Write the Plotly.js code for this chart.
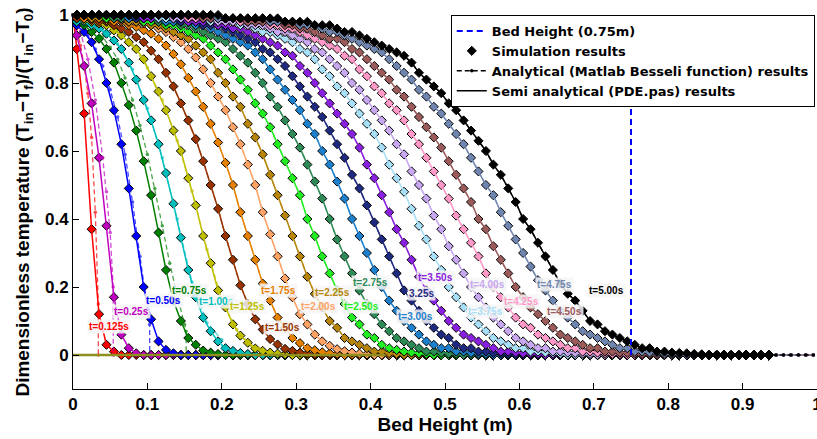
<!DOCTYPE html>
<html><head><meta charset="utf-8">
<script src="https://cdn.plot.ly/plotly-3.0.1.min.js"></script>
<style>html,body{margin:0;padding:0;background:#fff}#chart{width:817px;height:439px}</style>
</head><body><div id="chart"></div>
<script>
// ---------------- data ----------------
const times = [0.125,0.25,0.5,0.75,1.0,1.25,1.5,1.75,2.0,2.25,2.5,2.75,3.0,3.25,3.5,3.75,4.0,4.25,4.5,4.75,5.0];
const labels = ['t=0.125s','t=0.25s','t=0.50s','t=0.75s','t=1.00s','t=1.25s','t=1.50s','t=1.75s','t=2.00s','t=2.25s','t=2.50s','t=2.75s','t=3.00s','3.25s','t=3.50s','t=3.75s','t=4.00s','t=4.25s','t=4.50s','t=4.75s','t=5.00s'];
const labelX = [0.049,0.078,0.121,0.156,0.193,0.235,0.281,0.276,0.330,0.349,0.388,0.400,0.461,0.469,0.487,0.554,0.557,0.603,0.661,0.647,0.717];
const labelY = [0.083,0.127,0.159,0.191,0.157,0.142,0.081,0.191,0.142,0.183,0.142,0.213,0.113,0.181,0.227,0.127,0.206,0.157,0.127,0.206,0.189];
const colors = ['#ff0000','#c000c0','#0000ff','#008000','#00bfbf','#bfbf00','#993300','#e68000','#ffa366','#b8860b','#22ee22','#2e8b57','#1e80cc','#1f2a80','#8a20e0','#a8e0f8','#c8a8f0','#ff99c8','#9c5b5b','#6f86b0','#000000'];

// simulation grid (x = 0.005 + 0.01 k)
const simX0 = 0.005, simStep = 0.01, simCount = 94, anaCount = 100;
const inletValue = 1;

// simulation results (values until the curve reaches ~0; zeros after)
const sim_t0125 = [0.90,0.71,0.37,0.12,0.03,0.01];
const sim_t025  = [0.94,0.85,0.74,0.58,0.38,0.17,0.06,0.02,0.005];
const sim_t050  = [0.97,0.95,0.92,0.87,0.80,0.72,0.62,0.49,0.35,0.20,0.105,0.04,0.015,0.005];
const sim_t075  = [0.98,0.97,0.95,0.93,0.90,0.86,0.80,0.735,0.66,0.57,0.47,0.36,0.25,0.16,0.10,0.05,0.03,0.013,0.007,0.003];
const sim_t100  = [0.98,0.98,0.97,0.96,0.945,0.925,0.90,0.86,0.81,0.75,0.69,0.62,0.535,0.445,0.345,0.25,0.17,0.11,0.07,0.04,0.02,0.012,0.006,0.003];
const sim_t125  = [0.99,0.985,0.98,0.975,0.97,0.955,0.94,0.92,0.90,0.87,0.82,0.775,0.72,0.66,0.60,0.52,0.44,0.35,0.27,0.19,0.14,0.09,0.057,0.036,0.019,0.012,0.007,0.004,0.002];
const sim_t150  = [0.99,0.99,0.985,0.98,0.98,0.97,0.96,0.95,0.935,0.92,0.895,0.87,0.83,0.79,0.74,0.69,0.635,0.57,0.50,0.43,0.35,0.28,0.205,0.15,0.105,0.075,0.047,0.031,0.018,0.012,0.007,0.004,0.002];
const sim_t175  = [1,0.99,0.99,0.99,0.985,0.98,0.98,0.97,0.965,0.955,0.945,0.93,0.91,0.885,0.855,0.815,0.775,0.73,0.68,0.625,0.565,0.50,0.42,0.35,0.28,0.21,0.16,0.11,0.08,0.05,0.035,0.02,0.014,0.008,0.005,0.003];
const sim_t200  = [1,1,1,0.99,0.99,0.99,0.985,0.98,0.98,0.975,0.97,0.96,0.95,0.935,0.92,0.90,0.875,0.84,0.80,0.76,0.72,0.67,0.62,0.56,0.50,0.42,0.355,0.29,0.225,0.17,0.12,0.09,0.06,0.04,0.027,0.017,0.011,0.007,0.004,0.002];
const sim_t225  = [1,1,0.99,0.99,0.99,0.99,0.99,0.98,0.98,0.98,0.97,0.97,0.96,0.95,0.94,0.93,0.91,0.89,0.87,0.83,0.80,0.76,0.73,0.68,0.64,0.59,0.53,0.47,0.41,0.35,0.29,0.23,0.18,0.14,0.10,0.08,0.05,0.04,0.03,0.02,0.01,0.01,0.005,0.003];
const sim_t250  = [1,1,1,1,0.99,0.99,0.99,0.99,0.99,0.98,0.98,0.98,0.97,0.97,0.96,0.95,0.94,0.93,0.91,0.89,0.87,0.84,0.81,0.78,0.74,0.71,0.67,0.62,0.57,0.52,0.47,0.40,0.35,0.29,0.24,0.19,0.15,0.11,0.09,0.06,0.05,0.03,0.02,0.015,0.01,0.007,0.005,0.003];
const sim_t275  = [1,1,1,1,1,0.99,0.99,0.99,0.99,0.99,0.99,0.98,0.98,0.98,0.97,0.97,0.96,0.95,0.94,0.93,0.92,0.90,0.88,0.86,0.83,0.80,0.76,0.73,0.69,0.65,0.61,0.56,0.51,0.46,0.40,0.34,0.29,0.24,0.19,0.15,0.12,0.09,0.07,0.05,0.04,0.03,0.02,0.01,0.01,0.006,0.004,0.003];
const sim_t300  = [1,1,1,1,1,1,1,0.99,0.99,0.99,0.99,0.99,0.98,0.98,0.98,0.98,0.97,0.97,0.96,0.95,0.94,0.93,0.92,0.91,0.89,0.87,0.84,0.81,0.78,0.75,0.72,0.68,0.65,0.60,0.56,0.51,0.46,0.40,0.35,0.30,0.25,0.20,0.16,0.13,0.10,0.08,0.06,0.04,0.03,0.02,0.02,0.01,0.01,0.006,0.004,0.003];
const sim_t325  = [1,1,1,1,1,1,1,1,0.99,0.99,0.99,0.99,0.99,0.99,0.98,0.98,0.98,0.97,0.97,0.97,0.96,0.95,0.94,0.93,0.92,0.90,0.89,0.87,0.85,0.82,0.79,0.76,0.73,0.70,0.66,0.62,0.58,0.53,0.49,0.44,0.39,0.34,0.29,0.24,0.19,0.16,0.13,0.10,0.08,0.06,0.05,0.03,0.02,0.02,0.01,0.01,0.006,0.005,0.003];
const sim_t350  = [1,1,1,1,1,1,1,1,1,0.99,0.99,0.99,0.99,0.99,0.99,0.98,0.98,0.98,0.98,0.97,0.97,0.96,0.96,0.95,0.94,0.93,0.92,0.91,0.89,0.88,0.85,0.83,0.80,0.77,0.74,0.71,0.68,0.65,0.61,0.56,0.52,0.47,0.42,0.37,0.33,0.28,0.23,0.19,0.16,0.13,0.10,0.08,0.06,0.05,0.04,0.03,0.02,0.01,0.01,0.007,0.005,0.004,0.003];
const sim_t375  = [1,1,1,1,1,1,1,1,1,1,1,0.99,0.99,0.99,0.99,0.99,0.99,0.99,0.98,0.98,0.98,0.98,0.97,0.97,0.96,0.95,0.95,0.94,0.93,0.92,0.90,0.89,0.87,0.84,0.82,0.79,0.77,0.74,0.71,0.68,0.65,0.61,0.56,0.52,0.48,0.43,0.38,0.34,0.29,0.25,0.20,0.17,0.14,0.11,0.09,0.07,0.05,0.04,0.03,0.02,0.02,0.01,0.01,0.007,0.005,0.003];
const sim_t400  = [1,1,1,1,1,1,1,1,1,1,1,1,1,0.99,0.99,0.99,0.99,0.99,0.99,0.98,0.98,0.98,0.98,0.97,0.97,0.97,0.96,0.95,0.95,0.94,0.93,0.92,0.90,0.89,0.87,0.85,0.83,0.80,0.78,0.75,0.72,0.69,0.66,0.62,0.59,0.54,0.50,0.46,0.41,0.37,0.32,0.28,0.24,0.20,0.17,0.14,0.11,0.09,0.07,0.05,0.04,0.03,0.02,0.02,0.01,0.01,0.007,0.006,0.004,0.003];
const sim_t425  = [1,1,1,1,1,1,1,1,1,1,1,1,1,1,1,0.99,0.99,0.99,0.99,0.99,0.99,0.99,0.98,0.98,0.98,0.98,0.97,0.97,0.96,0.96,0.95,0.94,0.93,0.92,0.91,0.90,0.88,0.87,0.84,0.82,0.79,0.77,0.74,0.72,0.69,0.65,0.62,0.58,0.54,0.50,0.46,0.41,0.37,0.33,0.29,0.24,0.20,0.17,0.14,0.11,0.09,0.08,0.06,0.05,0.04,0.03,0.02,0.02,0.01,0.01,0.007,0.005,0.003,0.002];
const sim_t450  = [1,1,1,1,1,1,1,1,1,1,1,1,1,1,1,1,1,0.99,0.99,0.99,0.99,0.99,0.99,0.98,0.98,0.98,0.98,0.98,0.97,0.97,0.96,0.96,0.95,0.94,0.93,0.93,0.92,0.90,0.89,0.87,0.85,0.83,0.81,0.78,0.76,0.73,0.70,0.67,0.64,0.61,0.57,0.53,0.49,0.45,0.40,0.37,0.32,0.28,0.24,0.20,0.17,0.14,0.12,0.10,0.08,0.06,0.05,0.04,0.03,0.02,0.02,0.01,0.01,0.007,0.006,0.004,0.003,0.002];
const sim_t475  = [1,1,1,1,1,1,1,1,1,1,1,1,1,1,1,1,1,1,1,0.99,0.99,0.99,0.99,0.99,0.99,0.99,0.98,0.98,0.98,0.98,0.97,0.97,0.97,0.96,0.95,0.95,0.94,0.93,0.92,0.91,0.90,0.89,0.87,0.85,0.83,0.81,0.78,0.76,0.73,0.71,0.68,0.65,0.62,0.58,0.54,0.50,0.47,0.42,0.38,0.34,0.30,0.26,0.22,0.19,0.16,0.13,0.11,0.09,0.07,0.06,0.05,0.04,0.03,0.02,0.02,0.01,0.01,0.007,0.006,0.004,0.003,0.002];
const sim_t500  = [1,1,1,1,1,1,1,1,1,1,1,1,1,1,1,1,1,1,1,1,0.99,0.99,0.99,0.99,0.99,0.99,0.99,0.99,0.98,0.98,0.98,0.98,0.97,0.97,0.97,0.96,0.95,0.95,0.94,0.93,0.92,0.91,0.90,0.89,0.88,0.86,0.83,0.81,0.79,0.77,0.74,0.72,0.69,0.66,0.63,0.60,0.56,0.53,0.49,0.45,0.40,0.37,0.33,0.29,0.25,0.21,0.18,0.16,0.13,0.10,0.09,0.07,0.06,0.05,0.04,0.03,0.02,0.02,0.01,0.01,0.007,0.006,0.005,0.003,0.002];

// analytical (Besseli) results for the early times, with the sharp front
const ana_t0125_x = [0,0.005,0.01,0.015,0.02,0.025,0.03,0.034,0.0341];
const ana_t0125_y = [1,0.96,0.91,0.85,0.77,0.64,0.42,0.15,0];
const ana_t025_x  = [0,0.01,0.02,0.03,0.04,0.045,0.05,0.054,0.0541];
const ana_t025_y  = [1,0.95,0.87,0.75,0.58,0.48,0.36,0.20,0];
const ana_t050_x  = [0,0.01,0.02,0.03,0.04,0.05,0.06,0.07,0.08,0.09,0.10,0.103,0.1031];
const ana_t050_y  = [1,0.97,0.94,0.90,0.85,0.78,0.70,0.59,0.45,0.29,0.14,0.09,0];
const ana_t075_x  = [0,0.01,0.02,0.03,0.04,0.05,0.06,0.07,0.08,0.09,0.10,0.11,0.12,0.13,0.14,0.15,0.152,0.1521];
const ana_t075_y  = [1,0.98,0.97,0.955,0.935,0.905,0.87,0.815,0.75,0.675,0.59,0.49,0.38,0.27,0.175,0.09,0.07,0];
const ana_t100_x  = [0,0.02,0.04,0.06,0.08,0.10,0.12,0.14,0.16,0.18,0.20,0.2001];
const ana_t100_y  = [1,0.975,0.955,0.915,0.84,0.725,0.58,0.40,0.215,0.095,0.045,0];
const ana_t125_x  = [0,0.02,0.04,0.06,0.08,0.10,0.12,0.14,0.16,0.18,0.20,0.22,0.24,0.25,0.2501];
const ana_t125_y  = [1,0.983,0.972,0.95,0.911,0.845,0.75,0.63,0.482,0.31,0.165,0.075,0.027,0.02,0];

const bedX = [0.75,0.75], bedY = [0,1];
const baseX = [0,0.42], baseY = [0,0];

// ---------------- build ----------------
const simSeries = [sim_t0125,sim_t025,sim_t050,sim_t075,sim_t100,sim_t125,sim_t150,sim_t175,sim_t200,sim_t225,sim_t250,sim_t275,sim_t300,sim_t325,sim_t350,sim_t375,sim_t400,sim_t425,sim_t450,sim_t475,sim_t500];
const anaEarlyX = [ana_t0125_x,ana_t025_x,ana_t050_x,ana_t075_x,ana_t100_x,ana_t125_x];
const anaEarlyY = [ana_t0125_y,ana_t025_y,ana_t050_y,ana_t075_y,ana_t100_y,ana_t125_y];

function grid(n){const a=[];for(let k=0;k<n;k++)a.push(+(simX0+simStep*k).toFixed(4));return a;}
function padZeros(v,n){const a=v.slice();while(a.length<n)a.push(0);return a;}

const FONT = 'Liberation Sans, Arial, Helvetica, sans-serif';
const LEGFONT = 'DejaVu Sans, Verdana, sans-serif';
const last = times.length-1;
const traces = [];
times.forEach((t,i)=>{
  const c = colors[i];
  const vals = simSeries[i];
  const isLast = i===last;
  traces.push({type:'scatter',mode:'markers',x:grid(simCount),y:padZeros(vals,simCount),
    marker:{symbol:'diamond',size:7,color:c,line:{color:'#000',width:1}},
    cliponaxis:false,hoverinfo:'skip',name:'Simulation results',showlegend:isLast,legendrank:2});
  let ax, ay;
  if(i<anaEarlyX.length){ax=anaEarlyX[i];ay=anaEarlyY[i];}
  else{ax=[0].concat(grid(anaCount));ay=[inletValue].concat(padZeros(vals,anaCount));}
  traces.push({type:'scatter',mode:'lines+markers',x:ax,y:ay,
    line:{color:c,width:1.3,dash:'5px,3px'},marker:{size:3.5,color:c},
    opacity:isLast?1:0.7,cliponaxis:false,hoverinfo:'skip',
    name:'Analytical (Matlab Besseli function) results',showlegend:isLast,legendrank:3});
  traces.push({type:'scatter',mode:'lines',x:[0].concat(grid(vals.length+1)),y:[inletValue].concat(vals,[0]),
    line:{color:c,width:1.5},cliponaxis:false,hoverinfo:'skip',
    name:'Semi analytical (PDE.pas) results',showlegend:isLast,legendrank:4});
});
traces.push({type:'scatter',mode:'lines',x:baseX,y:baseY,line:{color:'#8f8f1f',width:2.5},showlegend:false,hoverinfo:'skip',cliponaxis:false});
traces.push({type:'scatter',mode:'lines',x:bedX,y:bedY,line:{color:'#0000ff',width:2,dash:'6px,4px'},
  name:'Bed Height (0.75m)',showlegend:true,legendrank:1,hoverinfo:'skip'});

const annotations = labels.map((s,i)=>({x:labelX[i],y:labelY[i],text:s,showarrow:false,
  font:{family:FONT,size:10,color:colors[i],weight:'bold'},bgcolor:'rgba(246,246,246,0.85)',borderpad:1}));

const layout = {
  width:817,height:439,margin:{l:73,r:0,t:15,b:50},
  paper_bgcolor:'#ffffff',plot_bgcolor:'#ffffff',
  font:{family:FONT,color:'#000'},
  showlegend:true,
  legend:{x:0.997,y:1,xanchor:'right',yanchor:'top',bgcolor:'#ffffff',bordercolor:'#000',borderwidth:1,
    font:{family:LEGFONT,size:13,color:'#000',weight:'bold'},tracegroupgap:0,itemwidth:30,traceorder:'normal'},
  xaxis:{range:[0,1],tick0:0,dtick:0.1,showline:true,linecolor:'#000',linewidth:1,ticks:'inside',ticklen:6,tickcolor:'#000',
    showgrid:false,zeroline:false,automargin:false,ticklabeloverflow:'allow',tickfont:{family:FONT,size:17,weight:'bold'},
    title:{text:'Bed Height (m)',font:{family:FONT,size:19,weight:'bold'},standoff:2}},
  yaxis:{range:[-0.1,1],tickvals:[0,0.2,0.4,0.6,0.8,1],showline:true,linecolor:'#000',linewidth:1,ticks:'inside',ticklen:6,tickcolor:'#000',
    showgrid:false,zeroline:false,automargin:false,tickfont:{family:FONT,size:17,weight:'bold'},
    title:{text:'Dimensionless temperature (T<sub>in</sub>\u2212T<sub>f</sub>)/(T<sub>in</sub>\u2212T<sub>0</sub>)',font:{family:FONT,size:19,weight:'bold'},standoff:10}},
  annotations:annotations
};
Plotly.newPlot('chart',traces,layout,{staticPlot:true,displayModeBar:false});
</script></body></html>
